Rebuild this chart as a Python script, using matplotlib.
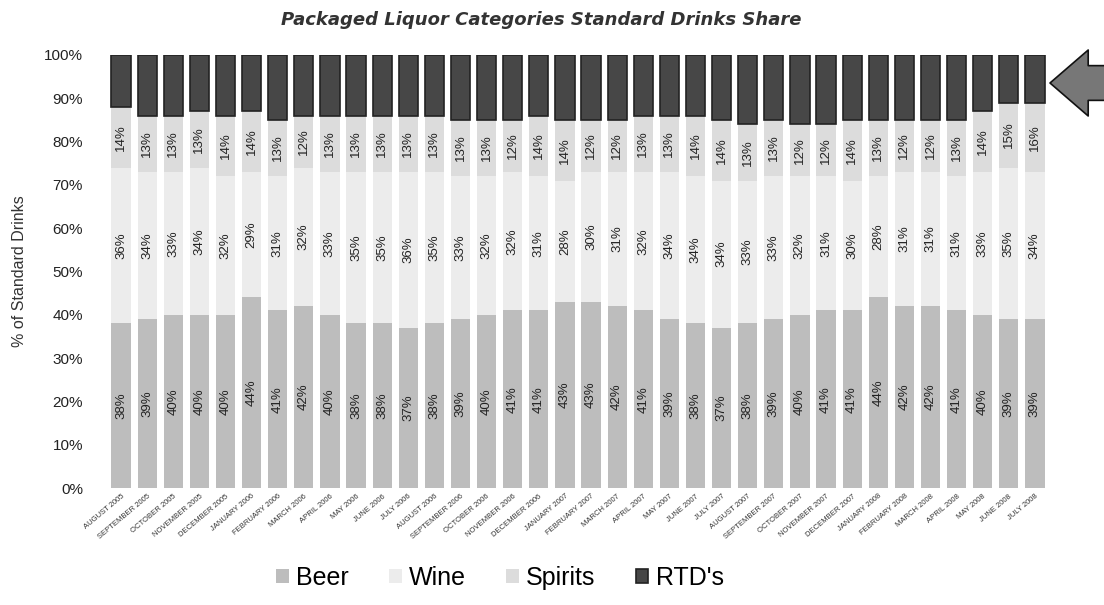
import numpy as np
import matplotlib.pyplot as plt

plt.rcParams['font.family'] = ['Liberation Sans', 'DejaVu Sans']

# -----------------------------
# Data
# -----------------------------
months = ['AUGUST 2005', 'SEPTEMBER 2005', 'OCTOBER 2005', 'NOVEMBER 2005',
          'DECEMBER 2005', 'JANUARY 2006', 'FEBRUARY 2006', 'MARCH 2006',
          'APRIL 2006', 'MAY 2006', 'JUNE 2006', 'JULY 2006', 'AUGUST 2006',
          'SEPTEMBER 2006', 'OCTOBER 2006', 'NOVEMBER 2006', 'DECEMBER 2006',
          'JANUARY 2007', 'FEBRUARY 2007', 'MARCH 2007', 'APRIL 2007',
          'MAY 2007', 'JUNE 2007', 'JULY 2007', 'AUGUST 2007',
          'SEPTEMBER 2007', 'OCTOBER 2007', 'NOVEMBER 2007', 'DECEMBER 2007',
          'JANUARY 2008', 'FEBRUARY 2008', 'MARCH 2008', 'APRIL 2008',
          'MAY 2008', 'JUNE 2008', 'JULY 2008']

beer = [38, 39, 40, 40, 40, 44, 41, 42, 40, 38, 38, 37, 38, 39, 40, 41, 41, 43,
        43, 42, 41, 39, 38, 37, 38, 39, 40, 41, 41, 44, 42, 42, 41, 40, 39, 39]
wine = [36, 34, 33, 34, 32, 29, 31, 32, 33, 35, 35, 36, 35, 33, 32, 32, 31, 28,
        30, 31, 32, 34, 34, 34, 33, 33, 32, 31, 30, 28, 31, 31, 31, 33, 35, 34]
spirits = [14, 13, 13, 13, 14, 14, 13, 12, 13, 13, 13, 13, 13, 13, 13, 12, 14, 14,
           12, 12, 13, 13, 14, 14, 13, 13, 12, 12, 14, 13, 12, 12, 13, 14, 15, 16]
rtds = [12, 14, 14, 13, 14, 13, 15, 14, 14, 14, 14, 14, 14, 15, 15, 15, 14, 15,
        15, 15, 14, 14, 14, 15, 16, 15, 16, 16, 15, 15, 15, 15, 15, 13, 11, 11]

# -----------------------------
# Plot
# -----------------------------
fig = plt.figure(figsize=(11.04, 6.05), dpi=100)
ax = fig.add_axes([108 / 1104, 1 - 488 / 605, 940 / 1104, 433 / 605])

x = np.arange(len(months))
series = [('Beer', beer, '#bdbdbd', 'none'),
          ('Wine', wine, '#ececec', 'none'),
          ('Spirits', spirits, '#dcdcdc', 'none'),
          ("RTD's", rtds, '#474747', '#222222')]

bottom = np.zeros(len(months))
for name, vals, col, edge in series:
    vals = np.array(vals) / 100
    ax.bar(x, vals, 0.74, bottom=bottom, color=col, edgecolor=edge,
           linewidth=1.2 if edge != 'none' else 0, label=name)
    if name != "RTD's":
        for xi, b, v in zip(x, bottom, vals):
            ax.text(xi, b + v / 2, f'{round(v * 100)}%', rotation=90,
                    ha='center', va='center', fontsize=9.5, color='#222222')
    bottom += vals

ax.set_xlim(-0.5, len(months) - 0.5)
ax.set_ylim(0, 1)
ax.set_yticks(np.arange(0, 1.01, 0.1))
ax.set_yticklabels([f'{int(t * 100)}%' for t in np.arange(0, 1.01, 0.1)],
                   fontsize=11, color='#222222')
ax.set_xticks(x)
ax.set_xticklabels(months, rotation=40, ha='right', rotation_mode='anchor',
                   fontsize=5.5, color='#333333')
ax.tick_params(length=0)
ax.tick_params(axis='y', pad=18)
for s in ax.spines.values():
    s.set_visible(False)

ax.set_ylabel('% of Standard Drinks', fontsize=11.5, color='#333333', labelpad=12)
fig.text(0.49, 1 - 20 / 605, 'Packaged Liquor Categories Standard Drinks Share',
         ha='center', va='center', fontsize=13, fontweight='bold',
         style='italic', color='#333333', family='DejaVu Sans')

fig.legend(loc='center', bbox_to_anchor=(500 / 1104, 1 - 578 / 605), ncol=4,
           frameon=False, fontsize=18, handlelength=0.5, handleheight=0.5,
           handletextpad=0.3, columnspacing=1.6)

# arrow pointing at the last bars
ax.annotate('', xy=(1050, 605 - 83), xytext=(1112, 605 - 83),
            xycoords='figure pixels', textcoords='figure pixels',
            arrowprops=dict(arrowstyle='simple,head_length=1.1,head_width=1.9,tail_width=1.0',
                            fc='#777777', ec='#111111', lw=1.2, mutation_scale=25,
                            shrinkA=0, shrinkB=0))

plt.savefig('out.png', dpi=100)
